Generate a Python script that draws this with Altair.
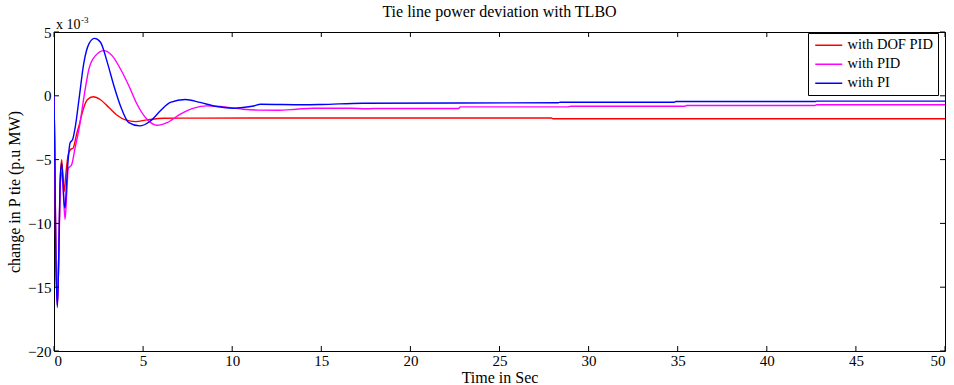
import altair as alt
import pandas as pd

# ---- data (values in units of 1e-3 p.u. MW) ----
series_names = ["with DOF PID", "with PID", "with PI"]
colors = ["#ff0000", "#ff00ff", "#0000ff"]

t_dof = [0, 0.04, 0.1, 0.19, 0.27, 0.35, 0.43, 0.5, 0.57, 0.66, 0.8, 0.93, 1.07, 1.27,
         1.45, 1.6, 1.87, 2.2, 2.61, 3.08, 3.54, 4.01, 4.57, 5.22, 6.16, 8.0, 12.0,
         27.9, 28.0, 50]
v_dof = [0, -4, -12, -16.4, -12.5, -6.5, -5.0, -6.3, -7.5, -6.2, -4.6, -4.2, -4.1, -3.0,
         -2.1, -1.25, -0.31, -0.08, -0.31, -0.92, -1.52, -1.89, -2.02, -1.89, -1.76, -1.75, -1.74,
         -1.74, -1.8, -1.8]

t_pid = [0, 0.04, 0.1, 0.19, 0.27, 0.35, 0.43, 0.52, 0.62, 0.71, 0.8, 0.99, 1.18, 1.43,
         1.68, 1.96, 2.33, 2.8, 3.26, 3.73, 4.2, 4.66, 5.22, 5.78, 6.34, 7.09, 7.84, 8.58,
         9.33, 10.6, 11.5, 12.6, 13.6, 14.5, 16.7, 17.5, 17.9, 22.7, 22.8, 28.8, 29.0,
         35.4, 35.5, 42.7, 42.8, 50]
v_pid = [0, -4, -12, -16.4, -12.5, -7, -6.0, -7.5, -9.7, -7.8, -5.7, -5.4, -4.1, -2.4,
         -0.1, 2.1, 3.15, 3.54, 3.15, 2.1, 0.79, -0.66, -1.84, -2.31, -2.1, -1.44, -0.97, -0.79,
         -0.84, -1.05, -1.12, -1.13, -1.05, -0.97, -0.97, -1.02, -1.0, -1.0, -0.87, -0.87, -0.82,
         -0.82, -0.76, -0.76, -0.70, -0.70]

t_pi = [0, 0.04, 0.1, 0.19, 0.27, 0.35, 0.43, 0.5, 0.56, 0.62, 0.7, 0.8, 0.9, 1.05, 1.21,
        1.4, 1.68, 1.96, 2.28, 2.61, 2.99, 3.36, 3.73, 4.2, 4.81, 5.41, 5.97, 6.53, 7.37,
        8.2, 9.14, 10.07, 10.6, 11.2, 11.6, 14.0, 15.0, 17.3, 28.3, 28.4, 34.8, 34.9,
        42.7, 42.8, 50]
v_pi = [0, -4, -12, -16.6, -12.2, -6.5, -5.3, -6.5, -8.3, -8.8, -7.0, -4.9, -3.7, -3.4, -2.3,
        -0.3, 2.62, 4.07, 4.5, 4.2, 2.62, 0.79, -0.79, -2.1, -2.36, -1.97, -1.18, -0.52, -0.29,
        -0.52, -0.84, -0.97, -0.92, -0.8, -0.66, -0.7, -0.68, -0.58, -0.55, -0.5, -0.5, -0.45,
        -0.45, -0.42, -0.42]

x_ticks = [0, 5, 10, 15, 20, 25, 30, 35, 40, 45, 50]
y_ticks = [-20, -15, -10, -5, 0, 5]

title_text = "Tie line power deviation with TLBO"
x_title = "Time in Sec"
y_title = "change in P tie (p.u MW)"

rows = []
for name, ts, vs in [(series_names[0], t_dof, v_dof),
                     (series_names[1], t_pid, v_pid),
                     (series_names[2], t_pi, v_pi)]:
    for t, v in zip(ts, vs):
        rows.append({"t": t, "v": v, "series": name})
df = pd.DataFrame(rows)

W, H = 891, 319
FONT = "Liberation Serif"

xs = alt.Scale(domain=[0, 50], nice=False, zero=False)
ys = alt.Scale(domain=[-20, 5], nice=False, zero=False)

lines = alt.Chart(df).mark_line(strokeWidth=1.4, interpolate="monotone", clip=True).encode(
    x=alt.X("t:Q", scale=xs,
            axis=alt.Axis(values=x_ticks, ticks=False, domain=False, grid=False,
                          labelFont=FONT, labelFontSize=15, labelColor="black",
                          labelPadding=2, title=x_title, titleFont=FONT,
                          titleFontSize=16, titleFontWeight="normal", titleColor="black",
                          titlePadding=1)),
    y=alt.Y("v:Q", scale=ys,
            axis=alt.Axis(values=y_ticks, ticks=False, domain=False, grid=False,
                          labelFont=FONT, labelFontSize=15, labelColor="black",
                          labelPadding=3, title=y_title, titleFont=FONT,
                          titleFontSize=16, titleFontWeight="normal", titleColor="black",
                          titlePadding=5)),
    color=alt.Color("series:N", scale=alt.Scale(domain=series_names, range=colors),
                    legend=alt.Legend(title=None, orient="none", legendX=754, legendY=1,
                                      symbolType="M-1,0H4.4", symbolSize=100,
                                      symbolStrokeWidth=1.5, labelFont=FONT,
                                      labelFontSize=14.5, labelColor="black",
                                      strokeColor="black", fillColor="white",
                                      padding=5, rowPadding=4, labelOffset=20)),
    order=alt.Order("t:Q"),
)

xt = pd.DataFrame({"t": x_ticks})
yt = pd.DataFrame({"v": y_ticks})
tick_b = alt.Chart(xt).mark_rule(color="black", strokeWidth=1).encode(
    x=alt.X("t:Q", scale=xs), y=alt.value(H), y2=alt.value(H - 5))
tick_t = alt.Chart(xt).mark_rule(color="black", strokeWidth=1).encode(
    x=alt.X("t:Q", scale=xs), y=alt.value(0), y2=alt.value(5))
tick_l = alt.Chart(yt).mark_rule(color="black", strokeWidth=1).encode(
    y=alt.Y("v:Q", scale=ys), x=alt.value(0), x2=alt.value(5))
tick_r = alt.Chart(yt).mark_rule(color="black", strokeWidth=1).encode(
    y=alt.Y("v:Q", scale=ys), x=alt.value(W), x2=alt.value(W - 5))

title = alt.Chart(pd.DataFrame({"s": [title_text]})).mark_text(
    font=FONT, fontSize=16, align="center", baseline="middle", color="black").encode(
    text="s:N", x=alt.value(W / 2), y=alt.value(-20))
mult = alt.Chart(pd.DataFrame({"s": ["x 10"]})).mark_text(
    font=FONT, fontSize=14, align="left", baseline="alphabetic", color="black").encode(
    text="s:N", x=alt.value(2), y=alt.value(-3))
expo = alt.Chart(pd.DataFrame({"s": ["-3"]})).mark_text(
    font=FONT, fontSize=9, align="left", baseline="alphabetic", color="black").encode(
    text="s:N", x=alt.value(27), y=alt.value(-9))

chart = alt.layer(lines, tick_b, tick_t, tick_l, tick_r, title, mult, expo).properties(
    width=W, height=H,
    autosize=alt.AutoSizeParams(type="none"),
    padding={"left": 54, "top": 32, "right": 9, "bottom": 34},
    background="white",
).configure_view(stroke="black", strokeWidth=1)

chart.save("out.html", embed_options={"renderer": "svg", "actions": False})
